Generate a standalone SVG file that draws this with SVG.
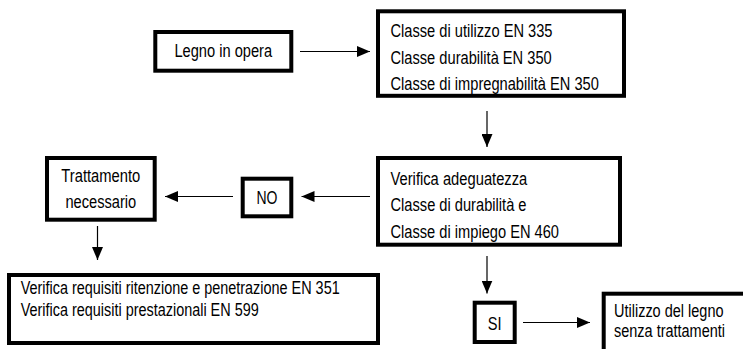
<svg xmlns="http://www.w3.org/2000/svg" width="743" height="349" viewBox="0 0 743 349">
<style>
.box{fill:#fff;stroke:#000;stroke-width:4}
.t{font-family:"Liberation Sans Narrow","Arial Narrow","Liberation Sans",Arial,sans-serif;font-size:18.3px;fill:#000}
.c{text-anchor:middle}
.ln{stroke:#000;stroke-width:1.2;fill:none;marker-end:url(#ah)}
</style>
<defs>
<marker id="ah" viewBox="0 0 13 11" refX="13" refY="5.5" markerWidth="13" markerHeight="11" markerUnits="userSpaceOnUse" orient="auto">
<path d="M0,0 L13,5.5 L0,11 z" fill="#000"/>
</marker>
</defs>
<rect width="743" height="349" fill="#fff"/>
<g id="connectors">
<line class="ln" x1="300" y1="51.5" x2="370" y2="51.5"/>
<line class="ln" x1="487" y1="111" x2="487" y2="147"/>
<line class="ln" x1="370" y1="196.5" x2="301.5" y2="196.5"/>
<line class="ln" x1="233" y1="196.5" x2="165" y2="196.5"/>
<line class="ln" x1="97.5" y1="226" x2="97.5" y2="260"/>
<line class="ln" x1="487" y1="256" x2="487" y2="293.5"/>
<line class="ln" x1="523" y1="322.5" x2="590" y2="322.5"/>
</g>
<g id="legno">
<rect class="box" x="155.3" y="32" width="136" height="38.7"/>
<text class="t c" x="223.3" y="56.8" textLength="97.7" lengthAdjust="spacingAndGlyphs">Legno in opera</text>
</g>
<g id="classi">
<rect class="box" x="378" y="11.3" width="246" height="84.5"/>
<text class="t" x="390.5" y="37.3" textLength="162" lengthAdjust="spacingAndGlyphs">Classe di utilizzo EN 335</text>
<text class="t" x="390.5" y="63.8" textLength="161.2" lengthAdjust="spacingAndGlyphs">Classe durabilità EN 350</text>
<text class="t" x="390.5" y="90.3" textLength="208.4" lengthAdjust="spacingAndGlyphs">Classe di impregnabilità EN 350</text>
</g>
<g id="verifica">
<rect class="box" x="378" y="158" width="242" height="86.7"/>
<text class="t" x="390.5" y="184.8" textLength="136.8" lengthAdjust="spacingAndGlyphs">Verifica adeguatezza</text>
<text class="t" x="390.5" y="211.3" textLength="136" lengthAdjust="spacingAndGlyphs">Classe di durabilità e</text>
<text class="t" x="390.5" y="237.8" textLength="168.5" lengthAdjust="spacingAndGlyphs">Classe di impiego EN 460</text>
</g>
<g id="no">
<rect class="box" x="242.7" y="178.7" width="48.6" height="37.6"/>
<text class="t c" x="267" y="203.8" textLength="21" lengthAdjust="spacingAndGlyphs">NO</text>
</g>
<g id="trattamento">
<rect class="box" x="47" y="158" width="107.7" height="61.7"/>
<text class="t c" x="100.8" y="182" textLength="79" lengthAdjust="spacingAndGlyphs">Trattamento</text>
<text class="t c" x="100.8" y="207.6" textLength="70.8" lengthAdjust="spacingAndGlyphs">necessario</text>
</g>
<g id="requisiti">
<rect class="box" x="9" y="275" width="369" height="68"/>
<text class="t" x="20.7" y="294.3" textLength="319" lengthAdjust="spacingAndGlyphs">Verifica requisiti ritenzione e penetrazione EN 351</text>
<text class="t" x="20.7" y="315.8" textLength="238" lengthAdjust="spacingAndGlyphs">Verifica requisiti prestazionali EN 599</text>
</g>
<g id="si">
<rect class="box" x="474.7" y="302.7" width="40" height="39.3"/>
<text class="t c" x="494.7" y="330.3" textLength="13.8" lengthAdjust="spacingAndGlyphs">SI</text>
</g>
<g id="utilizzo">
<rect class="box" x="603.7" y="293.7" width="142" height="58"/>
<text class="t" x="614" y="316.8" textLength="109.5" lengthAdjust="spacingAndGlyphs">Utilizzo del legno</text>
<text class="t" x="614" y="337.3" textLength="111" lengthAdjust="spacingAndGlyphs">senza trattamenti</text>
</g>
</svg>
